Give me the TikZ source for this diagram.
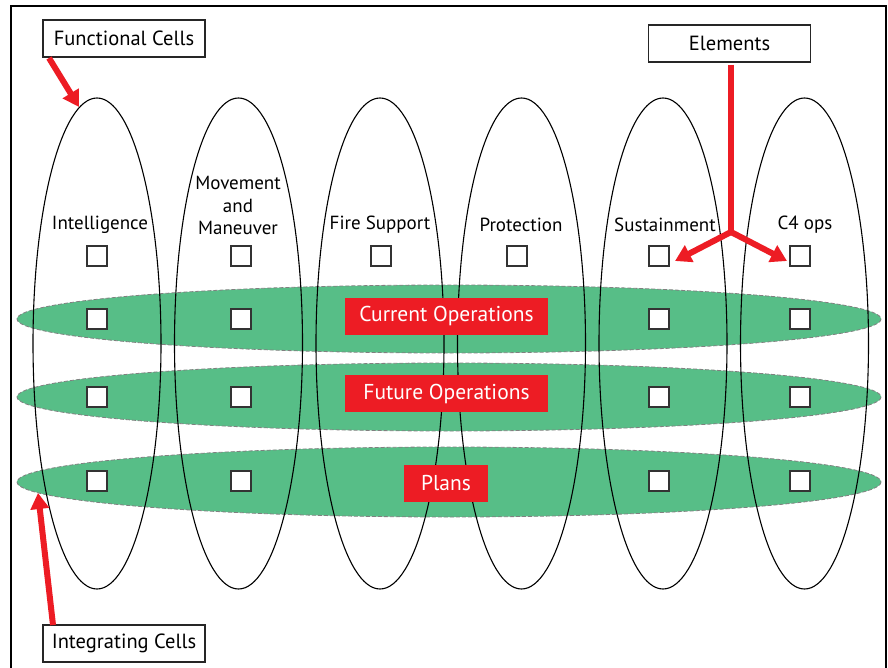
\documentclass[tikz,border=0pt]{standalone}
\usepackage{fontspec}
\setmainfont{PT Sans}
\usetikzlibrary{arrows.meta}
\definecolor{cellgreen}{RGB}{87,190,135}
\definecolor{cellred}{RGB}{237,28,36}
\tikzset{
  band/.style={fill=cellgreen, draw=gray, dashed, line width=0.8pt, dash pattern=on 4pt off 2pt},
  func/.style={draw=black, line width=1.1pt},
  sq/.style={draw=black!80, fill=white, line width=1.3pt, minimum size=20pt, inner sep=0pt},
  lbl/.style={font=\fontsize{19}{22.5}\selectfont, align=center, inner sep=0pt},
  callout/.style={draw=black!85, fill=white, line width=1.2pt, minimum width=162pt, minimum height=37pt, font=\fontsize{20.5}{24}\selectfont, inner sep=0pt},
  redlbl/.style={fill=cellred, text=white, minimum height=37pt, inner sep=0pt, font=\fontsize{21.5}{25}\selectfont},
  redarrow/.style={draw=cellred, line width=6pt, -{Triangle[length=16pt,width=18pt]}},
}
\begin{document}
\begin{tikzpicture}[x=1pt,y=-1pt]
\useasboundingbox (0,0) rectangle (888,668);
\fill[white] (0,0) rectangle (888,668);
\begin{scope}
\clip (0,0) rectangle (888,668);
\draw[line width=1.3pt] (11,690) -- (11,6) -- (886,6) -- (886,690);
\end{scope}
% integrating bands
\path[band] (449,319) ellipse [x radius=432, y radius=34];
\path[band] (449,397) ellipse [x radius=432, y radius=34];
\path[band] (449,482) ellipse [x radius=432, y radius=35];
% functional cells
\foreach \cx/\nm in {97/f1,238.5/f2,380/f3,521.5/f4,663/f5,804.5/f6}{
  \draw[func] (\cx,343.5) ellipse [x radius=64, y radius=245.5];
  \coordinate (\nm) at (\cx,98);
}
% labels
\node[lbl] (l1) at (100,225) {Intelligence};
\node[lbl] (l2) at (238,205.5) {Movement\\and\\Maneuver};
\node[lbl] (l3) at (380,225) {Fire Support};
\node[lbl] (l4) at (521,225) {Protection};
\node[lbl] (l5) at (665,225) {Sustainment};
\node[lbl] (l6) at (805,225) {C4 ops};
% squares top row
\node[sq] (s11) at (97,256) {};
\node[sq] (s12) at (241,256) {};
\node[sq] (s13) at (381,256) {};
\node[sq] (s14) at (517,256) {};
\node[sq] (s15) at (659,256) {};
\node[sq] (s16) at (800,256) {};
\foreach \r/\y in {2/319,3/397,4/481}{
  \node[sq] (s\r1) at (97,\y) {};
  \node[sq] (s\r2) at (241,\y) {};
  \node[sq] (s\r5) at (659,\y) {};
  \node[sq] (s\r6) at (800,\y) {};
}
% red labels
\node[redlbl, minimum width=203pt] (cur) at (446.5,316) {Current Operations};
\node[redlbl, minimum width=203pt] (fut) at (446.5,393.5) {Future Operations};
\node[redlbl, minimum width=84pt] (pla) at (446,483.5) {Plans};
% callouts
\node[callout] (fc) at (124,38.5) {Functional Cells};
\node[callout] (ic) at (124,643.5) {Integrating Cells};
\node[callout] (el) at (729.5,43.5) {Elements};
\coordinate (fa) at (49,58);
\coordinate (fat) at (79,107);
\draw[redarrow] (fa) -- (fat);
\coordinate (ia) at (53,625);
\coordinate (iat) at (38,493);
\draw[redarrow] (ia) -- (iat);
\coordinate (eb) at (731,232);
\coordinate (el1) at (675,261);
\coordinate (el2) at (787,261);
\draw[cellred, line width=6pt] (731,65) -- (eb);
\draw[redarrow] (eb) -- (el1);
\draw[redarrow] (eb) -- (el2);
\end{tikzpicture}
\end{document}
